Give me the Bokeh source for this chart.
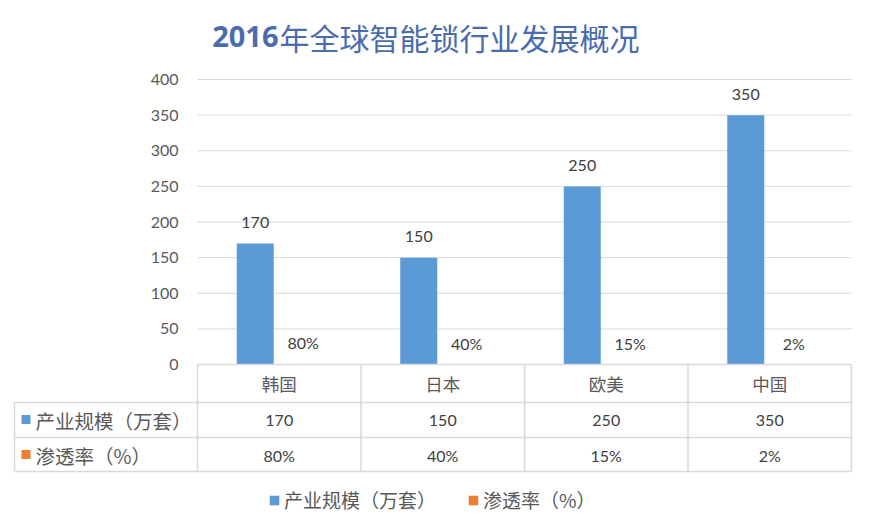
from bokeh.plotting import figure
from bokeh.models import Range1d, Legend, LegendItem
from bokeh.core.properties import value
from bokeh.embed import file_html
from bokeh.resources import INLINE

# ---- data ----
title_year = "2016"
title_rest = "年全球智能锁行业发展概况"
categories = ["韩国", "日本", "欧美", "中国"]
series_names = ["产业规模（万套）", "渗透率（%）"]
scale_values = [170, 150, 250, 350]
penetration = [0.80, 0.40, 0.15, 0.02]
penetration_labels = ["80%", "40%", "15%", "2%"]
y_ticks = [0, 50, 100, 150, 200, 250, 300, 350, 400]

# ---- layout (page pixels) ----
W, H = 855, 515
PAGE = 0
plot_left, plot_right = 197, 851
zero_y, top_y = 364, 79
y_max = y_ticks[-1]
col_w = (plot_right - plot_left) / len(categories)
ppu = (zero_y - top_y) / y_max

BLUE = "#5B9BD5"
ORANGE = "#ED7D31"
GRID = "#D9D9D9"
TXT = "#595959"
TITLE = "#4A6BAE"
CJK = value("Noto Sans CJK SC")
NUM = value("Lato")


def xd(px):
    return (px - plot_left) / col_w


def yd(py):
    return (zero_y - py) / ppu


p = figure(width=W, height=H,
           x_range=Range1d(xd(PAGE), xd(PAGE + W)),
           y_range=Range1d(yd(PAGE + H), yd(PAGE)),
           output_backend="svg", toolbar_location=None,
           x_axis_location=None, y_axis_location=None,
           min_border=0, outline_line_color=None)
p.xgrid.visible = False
p.ygrid.visible = False
p.background_fill_color = "white"
p.border_fill_color = "white"

n = len(categories)
centers = [i + 0.5 for i in range(n)]
off = 24 / col_w
bw = 37 / col_w

# gridlines
p.segment(x0=[0] * len(y_ticks), x1=[n] * len(y_ticks), y0=y_ticks, y1=y_ticks,
          line_color=GRID, line_width=1)
# tick labels
p.text(x=[xd(178)] * len(y_ticks), y=y_ticks, text=[str(t) for t in y_ticks],
       text_align="right", text_baseline="middle", text_font=NUM,
       text_font_size="16px", text_color=TXT)

# bars
r1 = p.vbar(x=[c - off for c in centers], top=scale_values, width=bw,
            fill_color=BLUE, line_color=None)
r2 = p.vbar(x=[c + off for c in centers], top=penetration, width=bw,
            fill_color=ORANGE, line_color=None)

# data labels
p.text(x=[c - off for c in centers], y=scale_values, text=[str(v) for v in scale_values],
       y_offset=-21, text_align="center", text_baseline="middle", text_font=NUM,
       text_font_size="16px", text_color="#404040")
p.text(x=[c + off for c in centers], y=penetration, text=penetration_labels,
       y_offset=-21, text_align="center", text_baseline="middle", text_font=NUM,
       text_font_size="16px", text_color="#404040")

# ---- data table ----
row_lines = [402, 437, 471]
p.segment(x0=[xd(14)] * 3, x1=[n] * 3, y0=[yd(r) for r in row_lines],
          y1=[yd(r) for r in row_lines], line_color=GRID, line_width=1.5)
p.segment(x0=[xd(14)], x1=[xd(14)], y0=[yd(402)], y1=[yd(471)],
          line_color=GRID, line_width=1.5)
p.segment(x0=list(range(n + 1)), x1=list(range(n + 1)), y0=[0] * (n + 1),
          y1=[yd(471)] * (n + 1), line_color=GRID, line_width=1.5)
p.segment(x0=[0], x1=[n], y0=[0], y1=[0], line_color=GRID, line_width=1.5)

p.text(x=centers, y=[yd(383)] * n, text=categories, text_align="center",
       text_baseline="middle", text_font=CJK, text_font_size="17.5px", text_color=TXT)
p.text(x=centers, y=[yd(420)] * n, text=[str(v) for v in scale_values],
       text_align="center", text_baseline="middle", text_font=NUM,
       text_font_size="16px", text_color="#404040")
p.text(x=centers, y=[yd(455)] * n, text=penetration_labels,
       text_align="center", text_baseline="middle", text_font=NUM,
       text_font_size="16px", text_color="#404040")

p.rect(x=[xd(25.5), xd(25.5)], y=[yd(419), yd(454)], width=9, height=9,
       width_units="screen", height_units="screen",
       fill_color=[BLUE, ORANGE], line_color=None)
p.text(x=[xd(35), xd(35)], y=[yd(420), yd(455)], text=series_names,
       text_align="left", text_baseline="middle", text_font=CJK,
       text_font_size="19.5px", text_color=TXT)

# title
p.text(x=[xd(278)], y=[yd(36)], text=[title_year], text_align="right",
       text_baseline="middle", text_font=value("Open Sans"), text_font_style="bold",
       text_font_size="29px", text_color=TITLE)
p.text(x=[xd(279)], y=[yd(36)], text=[title_rest], text_align="left",
       text_baseline="middle", text_font=CJK,
       text_font_size="30px", text_color=TITLE)

# legend
legend = Legend(items=[LegendItem(label=series_names[0], renderers=[r1]),
                       LegendItem(label=series_names[1], renderers=[r2])],
                orientation="horizontal", location=(268, 2),
                glyph_width=12, glyph_height=12, label_standoff=4,
                spacing=31, padding=0, margin=0,
                label_text_font="Noto Sans CJK SC", label_text_font_size="19px",
                label_text_color=TXT, border_line_color=None,
                background_fill_alpha=0)
p.add_layout(legend)

open("out.html", "w").write(file_html(p, INLINE))
